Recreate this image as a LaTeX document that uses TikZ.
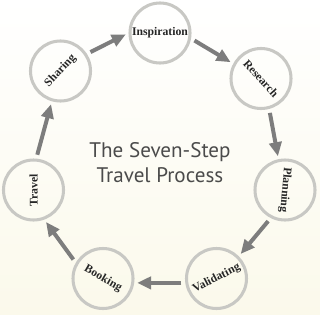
\documentclass[tikz,border=0pt]{standalone}
\usepackage{fontspec}
\setmainfont{Liberation Serif}
\newfontfamily\titlefont{PT Sans}
\usetikzlibrary{arrows.meta}
\definecolor{rimgray}{RGB}{200,200,196}
\definecolor{arrowgray}{RGB}{125,125,125}
\definecolor{cream}{RGB}{251,249,235}
\definecolor{titlegray}{RGB}{75,75,75}
\tikzstyle{stepcircle}=[
    circle,draw=rimgray,line width=2.6pt,
    minimum size=1.8cm,inner sep=0pt
    ]
\tikzstyle{steplabel}=[
    font=\bfseries\fontsize{10}{12}\selectfont,text=black!85
    ]
\tikzstyle{flow}=[
    draw=arrowgray,line width=3.4pt,
    -{Triangle[length=12pt,width=10.5pt]},
    shorten <=3.4pt,shorten >=2.5pt
    ]

\begin{document}
\begin{tikzpicture}[
x=0.03cm,y=-0.03cm
]
%background
\shade[top color=white,bottom color=cream] (0,0) rectangle (320,314);
\useasboundingbox (0,0) rectangle (320,314);
%steps
\node[stepcircle] (insp) at (160,33) {};
\node[stepcircle] (res) at (261,78.5) {};
\node[stepcircle] (plan) at (285,190) {};
\node[stepcircle] (valid) at (216.5,278.5) {};
\node[stepcircle] (book) at (103,278.5) {};
\node[stepcircle] (trav) at (33.5,190) {};
\node[stepcircle] (share) at (60.5,71) {};
%labels
\node[steplabel] (insp-t) at (insp) {Inspiration};
\node[steplabel,rotate=-48] (res-t) at (res) {Research};
\node[steplabel,rotate=-95] (plan-t) at (plan) {Planning};
\node[steplabel,rotate=27] (valid-t) at (valid) {Validating};
\node[steplabel,rotate=-30] (book-t) at (book) {Booking};
\node[steplabel,rotate=90] (trav-t) at (trav) {Travel};
\node[steplabel,rotate=47] (share-t) at (share) {Sharing};
%title
\node[font=\titlefont\fontsize{18}{21.3}\selectfont,text=titlegray,align=center] (title) at (160,163) {The Seven-Step\\Travel Process};
%arrows
\draw[flow] (share.33) -- (insp.180);
\draw[flow] (insp.-10) -- (res.152);
\draw[flow] (res.-75) -- (plan.102);
\draw[flow] (plan.-117) -- (valid.45);
\draw[flow] (valid.188) -- (book.-8);
\draw[flow] (book.150) -- (trav.-70);
\draw[flow] (trav.85) -- (share.-106);
\end{tikzpicture}
\end{document}
